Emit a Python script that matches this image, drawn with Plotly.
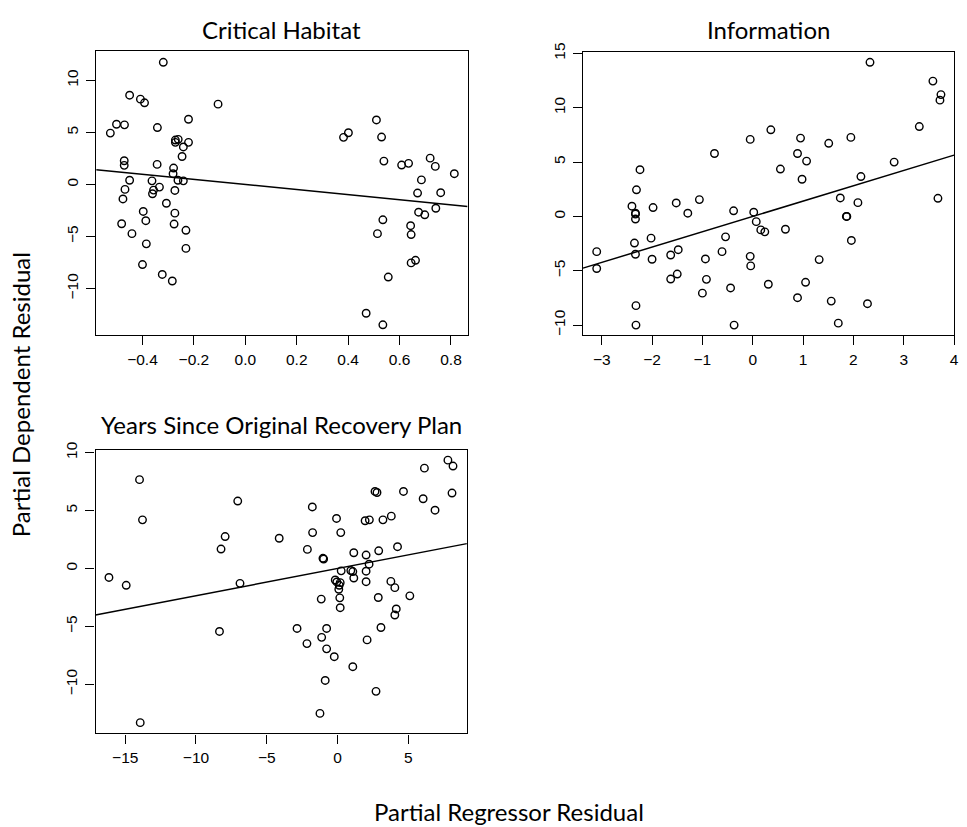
import plotly.graph_objects as go

# ---------------- data ----------------
ch_x = [-0.525, -0.501, -0.470, -0.450, -0.408, -0.392, -0.319, -0.106, -0.342, -0.221,
        -0.471, -0.471, -0.343, -0.450, -0.468, -0.476, -0.363, -0.357, -0.361, -0.334,
        -0.307, -0.272, -0.261, -0.272, -0.241, -0.246, -0.221, -0.279, -0.281, -0.262,
        -0.241, -0.274, -0.274, -0.277, -0.231, -0.231, -0.397, -0.387, -0.481, -0.441,
        -0.385, -0.400, -0.323, -0.284,
        0.382, 0.401, 0.510, 0.530, 0.539, 0.608, 0.635, 0.719, 0.739, 0.813,
        0.685, 0.670, 0.760, 0.674, 0.698, 0.741, 0.535, 0.514, 0.643, 0.645,
        0.645, 0.662, 0.556, 0.470, 0.535]
ch_y = [4.94, 5.79, 5.73, 8.58, 8.20, 7.85, 11.74, 7.72, 5.47, 6.27,
        2.28, 1.84, 1.93, 0.41, -0.47, -1.39, 0.35, -0.54, -0.89, -0.25,
        -1.80, 4.27, 4.34, 4.05, 3.61, 2.69, 4.05, 1.58, 1.04, 0.41,
        0.35, -0.57, -2.75, -3.80, -4.40, -6.14, -2.59, -3.48, -3.77, -4.72,
        -5.70, -7.69, -8.64, -9.27,
        4.53, 4.97, 6.20, 4.56, 2.25, 1.87, 2.03, 2.53, 1.74, 1.04,
        0.44, -0.82, -0.79, -2.66, -2.91, -2.28, -3.39, -4.72, -3.96, -4.81,
        -7.53, -7.28, -8.89, -12.37, -13.48]

inf_x = [-3.10, -3.10, -2.40, -2.33, -2.33, -2.33, -2.31, -2.24, -2.35, -2.33,
         -2.32, -2.32, -2.02, -1.98, -2.00, -1.63, -1.52, -1.48, -1.63, -1.50,
         -1.29, -1.06, -1.00, -0.94, -0.92, -0.76, -0.61, -0.54, -0.44, -0.38,
         -0.37, -0.05, -0.05, -0.04, 0.02, 0.07, 0.16, 0.24, 0.31, 0.36,
         0.55, 0.65, 0.89, 0.95, 0.98, 1.07, 0.89, 1.05, 1.32, 1.51,
         1.56, 1.70, 1.74, 1.86, 1.87, 1.95, 1.96, 2.09, 2.15, 2.28,
         2.33, 2.81, 3.31, 3.58, 3.74, 3.72, 3.68]
inf_y = [-3.24, -4.79, 0.94, 0.30, 0.21, -0.24, 2.45, 4.30, -2.45, -3.48,
         -8.21, -10.00, -2.00, 0.82, -3.94, -3.55, 1.24, -3.06, -5.76, -5.30,
         0.30, 1.55, -7.06, -3.91, -5.79, 5.79, -3.24, -1.88, -6.58, 0.52,
         -10.00, 7.09, -3.67, -4.55, 0.39, -0.48, -1.24, -1.42, -6.24, 7.97,
         4.36, -1.18, 5.79, 7.21, 3.42, 5.09, -7.48, -6.06, -3.97, 6.73,
         -7.79, -9.82, 1.70, 0.00, 0.00, 7.27, -2.21, 1.27, 3.67, -8.03,
         14.18, 5.00, 8.27, 12.45, 11.21, 10.70, 1.67]

yrs_x = [-16.15, -14.93, -13.99, -13.78, -13.94, -8.23, -7.94, -8.34, -7.05, -6.89,
         -4.12, -2.86, -2.16, -2.13, -1.78, -1.76, -1.03, -0.98, -1.15, -1.12,
         -0.77, -0.77, -0.87, -1.24, -0.23, -0.07, 0.23, 0.26, -0.16, -0.05,
         0.19, 0.12, 0.09, 0.16, 0.19, 0.94, 1.08, 1.15, 1.15, 1.08,
         1.95, 2.25, 2.02, 2.02, 2.23, 2.02, 2.09, 2.65, 2.79, 2.91,
         2.88, 3.07, 3.21, 2.72, 3.80, 4.24, 3.77, 4.05, 4.15, 4.05,
         4.66, 5.11, 6.05, 6.14, 6.89, 7.80, 8.16, 8.09]
yrs_y = [-0.77, -1.45, 7.67, 4.20, -13.30, 1.68, 2.76, -5.43, 5.82, -1.28,
         2.61, -5.17, -6.48, 1.65, 5.31, 3.10, 0.88, 0.82, -2.64, -5.94,
         -5.17, -6.93, -9.66, -12.50, -7.61, 4.32, 3.10, -0.20, -0.99, -1.16,
         -1.22, -1.45, -1.79, -2.53, -3.38, -0.17, -0.26, 1.36, -0.82, -8.47,
         4.12, 4.20, 1.16, -0.23, 0.37, -1.14, -6.16, 6.65, 6.56, 1.53,
         -2.50, -5.09, 4.20, -10.60, 4.52, 1.88, -1.11, -1.65, -3.49, -4.01,
         6.65, -2.36, 6.02, 8.66, 5.03, 9.35, 8.84, 6.51]

titles = ["Critical Habitat", "Information", "Years Since Original Recovery Plan"]
slopes = [-2.45, 1.41, 0.235]
intercepts = [0.0, 0.0, 0.0]

x_ticks = [[-0.4, -0.2, 0.0, 0.2, 0.4, 0.6, 0.8],
           [-3, -2, -1, 0, 1, 2, 3, 4],
           [-15, -10, -5, 0, 5]]
x_ticklabels = [["−0.4", "−0.2", "0.0", "0.2", "0.4", "0.6", "0.8"],
                ["−3", "−2", "−1", "0", "1", "2", "3", "4"],
                ["−15", "−10", "−5", "0", "5"]]
y_ticks = [[-10, -5, 0, 5, 10],
           [-10, -5, 0, 5, 10, 15],
           [-10, -5, 0, 5, 10]]
y_ticklabels = [["−10", "−5", "0", "5", "10"],
                ["−10", "−5", "0", "5", "10", "15"],
                ["−10", "−5", "0", "5", "10"]]

x_label = "Partial Regressor Residual"
y_label = "Partial Dependent Residual"

# ---------------- layout / styling ----------------
W, H = 967, 827
x_ranges = [[-0.580, 0.8645], [-3.373, 4.0], [-17.1, 9.14]]
y_ranges = [[-14.46, 12.78], [-10.91, 15.15], [-14.23, 10.26]]
# panel frames in pixels (left, right, top, bottom)
frames = [(96.7, 470.0, 43.0, 330.0),
          (586.0, 959.0, 43.3, 330.0),
          (96.0, 469.3, 446.0, 733.3)]

series = [(ch_x, ch_y), (inf_x, inf_y), (yrs_x, yrs_y)]

TICK_FONT = dict(family="Liberation Sans, Arial, sans-serif", size=15.5, color="black")
TEXT_FONT = "Lato, Carlito, Calibri, sans-serif"
TEXT_SIZE = 24

fig = go.Figure()
layout = dict(
    width=W, height=H,
    margin=dict(l=0, r=0, t=0, b=0),
    paper_bgcolor="white", plot_bgcolor="white",
    showlegend=False,
    annotations=[],
)

for i, ((xs, ys), fr) in enumerate(zip(series, frames)):
    sfx = "" if i == 0 else str(i + 1)
    xa, ya = "x" + sfx, "y" + sfx
    fig.add_trace(go.Scatter(
        x=xs, y=ys, mode="markers", xaxis=xa, yaxis=ya,
        marker=dict(symbol="circle-open", size=7.5, color="black",
                    line=dict(width=1.4, color="black")),
        hoverinfo="x+y"))
    x0, x1 = x_ranges[i]
    fig.add_trace(go.Scatter(
        x=[x0, x1],
        y=[intercepts[i] + slopes[i] * x0, intercepts[i] + slopes[i] * x1],
        mode="lines", xaxis=xa, yaxis=ya,
        line=dict(color="black", width=1.5), hoverinfo="skip"))

    l, r, t, b = fr
    common = dict(showgrid=False, zeroline=False, showline=True, mirror=True,
                  linecolor="black", linewidth=1.3, ticks="outside", ticklen=9,
                  tickwidth=1.2, tickcolor="black", tickfont=TICK_FONT)
    layout["xaxis" + sfx] = dict(
        domain=[l / W, r / W], range=x_ranges[i], anchor=ya,
        tickmode="array", tickvals=x_ticks[i], ticktext=x_ticklabels[i],
        ticklabelstandoff=1, **common)
    layout["yaxis" + sfx] = dict(
        domain=[1 - b / H, 1 - t / H], range=y_ranges[i], anchor=xa,
        tickmode="array", tickvals=y_ticks[i], ticktext=y_ticklabels[i],
        tickangle=-90, ticklabelstandoff=2, **common)

# panel titles, centred over each frame
title_y = [21, 21, 421]
for txt, fr, py in zip(titles, frames, title_y):
    px = (fr[0] + fr[1]) / 2
    layout["annotations"].append(dict(
        text=txt, x=px / W, y=1 - py / H, xref="paper", yref="paper",
        xanchor="center", yanchor="middle", showarrow=False,
        font=dict(family=TEXT_FONT, size=TEXT_SIZE, color="black")))

layout["annotations"].append(dict(
    text=x_label, x=512 / W, y=1 - 812 / H, xref="paper", yref="paper",
    xanchor="center", yanchor="middle", showarrow=False,
    font=dict(family=TEXT_FONT, size=TEXT_SIZE, color="black")))
layout["annotations"].append(dict(
    text=y_label, x=20 / W, y=1 - 390 / H, xref="paper", yref="paper",
    xanchor="center", yanchor="middle", showarrow=False, textangle=-90,
    font=dict(family=TEXT_FONT, size=TEXT_SIZE, color="black")))

fig.update_layout(**layout)
fig.write_html("out.html")
